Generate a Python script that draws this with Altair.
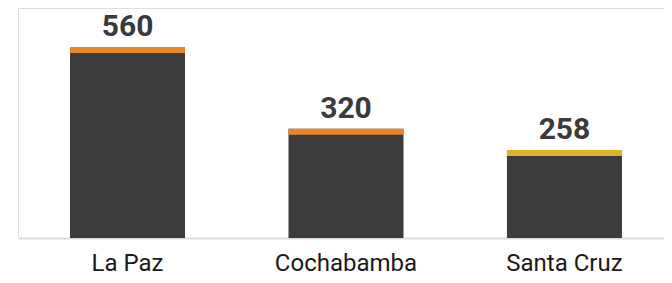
import altair as alt
import pandas as pd

cities = ["La Paz", "Cochabamba", "Santa Cruz"]
values = [560, 320, 258]
cap_colors = ["#e8862c", "#e8862c", "#e2b22e"]

df = pd.DataFrame({"city": cities, "value": values, "cap": cap_colors})

x = alt.X(
    "city:N",
    sort=cities,
    title=None,
    scale=alt.Scale(paddingInner=0.4737, paddingOuter=0.2153, align=0.553),
    axis=alt.Axis(
        domain=True,
        domainColor="#dcdcdc",
        domainWidth=2,
        ticks=False,
        grid=False,
        labelAngle=0,
        labelFont="Roboto",
        labelFontSize=24,
        labelColor="#1a1a1a",
        labelBaseline="alphabetic",
        labelPadding=32,
    ),
)
y = alt.Y("value:Q", scale=alt.Scale(domain=[0, 674], nice=False), axis=None)

base = alt.Chart(df)

bars = base.mark_bar(color="#3c3c3c").encode(x=x, y=y)

caps = base.mark_tick(thickness=6, size=115, yOffset=3, opacity=1).encode(
    x=x, y=y, color=alt.Color("cap:N", scale=None)
)

labels = base.mark_text(
    font="Roboto",
    fontWeight="bold",
    fontSize=30,
    color="#3a3a3a",
    baseline="alphabetic",
    dy=-11,
).encode(x=x, y=y, text="value:Q")

chart = (
    alt.layer(bars, caps, labels)
    .properties(
        width=646,
        height=230,
        autosize=alt.AutoSizeParams(type="none"),
        padding={"left": 10, "top": 0, "right": 0, "bottom": 37},
    )
    .configure_view(stroke="transparent", strokeWidth=0)
    .configure(background="white")
)

chart.save("out.html", embed_options={"renderer": "svg", "actions": False})
